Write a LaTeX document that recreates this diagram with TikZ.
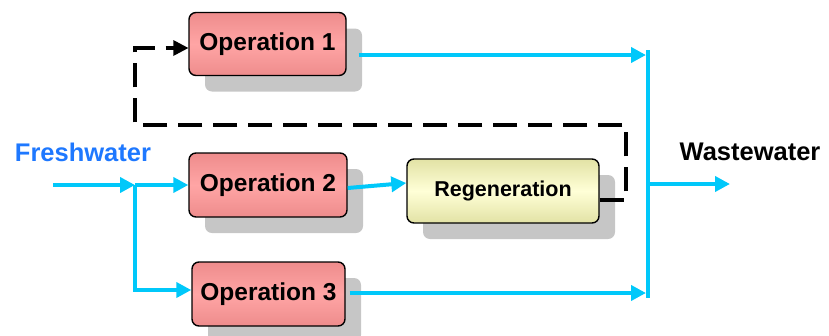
\documentclass[tikz,border=0pt]{standalone}
\usepackage{fontspec}
\setmainfont{Liberation Sans}
\usetikzlibrary{arrows.meta,shadows,patterns}
\definecolor{pipe}{RGB}{0,200,250}
\definecolor{fwblue}{RGB}{30,120,255}
\definecolor{opmid}{RGB}{255,165,165}
\definecolor{opedge}{RGB}{238,140,140}
\definecolor{rgmid}{RGB}{255,255,215}
\definecolor{rgedge}{RGB}{226,226,165}
\tikzset{
  shade/.style={general shadow={fill=gray!45, shadow xshift=16pt, shadow yshift=-16pt, rounded corners=8pt}},
  opbox/.style={draw=black, line width=1.4pt, rounded corners=7pt, shade,
    top color=opedge, bottom color=opedge, middle color=opmid,
    font=\bfseries\fontsize{24.5}{26}\selectfont, inner sep=0pt},
  rgbox/.style={draw=black, line width=1.4pt, rounded corners=7pt, shade,
    top color=rgedge, bottom color=rgedge, middle color=rgmid,
    font=\bfseries\fontsize{21.5}{24}\selectfont, inner sep=0pt},
  pipeline/.style={draw=pipe, line width=4pt},
  pipearrow/.style={pipeline, -{Triangle[length=15pt,width=15pt]}},
  recycle/.style={draw=black, line width=4pt, dash pattern=on 24pt off 11pt},
}
\begin{document}
\begin{tikzpicture}[x=1pt,y=-1pt]
\useasboundingbox (0,0) rectangle (829,335);
% nodes
\node[opbox, minimum width=157pt, minimum height=63pt] (op1) at (267.5,44) {\raisebox{-3pt}{Operation 1}};
\node[opbox, minimum width=158pt, minimum height=64pt] (op2) at (268,185) {\raisebox{-3pt}{Operation 2}};
\node[opbox, minimum width=153pt, minimum height=64pt] (op3) at (268.5,294) {\raisebox{-3pt}{Operation 3}};
\node[rgbox, minimum width=192pt, minimum height=64pt] (rg) at (503,191) {\raisebox{-2pt}{Regeneration}};
\node[text=fwblue, font=\bfseries\fontsize{25.5}{28}\selectfont] (fw) at (83,152) {Freshwater};
\node[font=\bfseries\fontsize{25.5}{28}\selectfont] (ww) at (750,152) {Wastewater};
% coordinates
\coordinate (fin) at (53,185);
\coordinate (j1) at (135,185);
\coordinate (c1) at (646,55);
\coordinate (c3) at (646,293);
\coordinate (ctop) at (648,50);
\coordinate (cbot) at (648,298);
\coordinate (cmid) at (648,184);
\coordinate (wout) at (730,184);
\coordinate (d1) at (626,200);
\coordinate (d2) at (626,125);
\coordinate (d3) at (135,125);
\coordinate (d4) at (135,48);
% freshwater distribution
\draw[pipearrow] (fin) -- (j1);
\draw[pipearrow] (j1) -- (op2.west);
\draw[pipearrow] (j1) |- ([yshift=4pt]op3.west);
\draw[pipearrow] ([yshift=-3pt]op2.east) -- ([yshift=8pt]rg.west);
% outlets
\draw[pipearrow] ([xshift=12pt,yshift=-11pt]op1.east) -- (c1);
\draw[pipearrow] ([xshift=4pt,yshift=1pt]op3.east) -- (c3);
\draw[pipeline] (ctop) -- (cbot);
\draw[pipearrow] (cmid) -- (wout);
% recycle
\draw[recycle] ([yshift=-9pt]rg.east) -- (d1) -- (d2) -- (d3) -- (d4) -- ([xshift=-14pt,yshift=-4pt]op1.west);
\draw[draw=none, fill=black] ([yshift=-4pt]op1.west) -- ++(-15,-8) -- ++(0,16) -- cycle;
\end{tikzpicture}
\end{document}
